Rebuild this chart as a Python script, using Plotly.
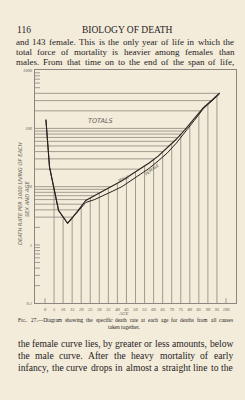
import numpy as np
import plotly.graph_objects as go

# ---------------- data ----------------
ages = [0.5, 2.5, 7.5, 12.5, 17.5, 22.5, 27.5, 32.5, 37.5, 42.5, 47.5, 52.5,
        57.5, 62.5, 67.5, 72.5, 77.5, 82.5, 87.5, 92.5, 96.5]
male = [142, 21.8, 3.92, 2.36, 3.63, 5.79, 7.04, 8.55, 10.4, 12.6, 16.0, 20.2,
        25.5, 33.5, 45.8, 65.1, 96.2, 148, 227, 310, 408]
female = [140, 21.5, 3.85, 2.33, 3.55, 5.35, 6.02, 7.04, 8.41, 10.0, 12.6, 16.0,
          20.6, 27.6, 37.7, 55.7, 85.5, 137, 218, 304, 392]
x_tick_vals = list(range(0, 101, 5))
x_tick_text = [str(v) for v in x_tick_vals]
y_tick_vals = [0.1, 1, 10, 100, 1000]
y_tick_text = ["0.1", "1", "10", "100", "1000"]
grid_values = [0.2, 0.3, 0.4, 0.5, 0.6, 0.7, 0.8, 0.9, 1, 2, 3, 4, 5, 6, 7, 8, 9,
               10, 20, 30, 40, 50, 60, 70, 80, 90, 100, 200, 300, 400,
               500, 600, 700, 800, 900]
vert_ages = list(range(5, 96, 5))

header_num = "116"
header_title = "BIOLOGY OF DEATH"
top_lines = ["and 143 female.  This is the only year of life in which the",
             "total force of mortality is heavier among females than",
             "males.  From that time on to the end of the span of life,"]
bottom_lines = ["the female curve lies, by greater or less amounts, below",
                "the male curve.  After the heavy mortality of early",
                "infancy, the curve drops in almost a straight line to the"]
caption_words = ["F<span style='font-size:4.2px'>IG</span>.", "27.—Diagram", "showing", "the",
                 "specific", "death", "rate", "at", "each", "age", "for", "deaths", "from",
                 "all", "causes"]
caption_plain = ["FIG.", "27.—Diagram", "showing", "the", "specific", "death", "rate", "at",
                 "each", "age", "for", "deaths", "from", "all", "causes"]
caption2 = "taken together."
ytitle1 = "DEATH RATE PER 1000 LIVING OF EACH"
ytitle2 = "SEX AND AGE"

# ---------------- styling / geometry ----------------
W, H = 245, 400
BG = "#f3ecda"
INK = "#26221e"
LABEL = "#625d55"
GRID = "#8c877e"
px_left, px_right = 35, 236
px_top, px_bot = 69, 305
px_age0, px_per_year = 45, 1.81
x_range = [(px_left - px_age0) / px_per_year, (px_right - px_age0) / px_per_year]

# Times / Liberation Serif advance widths (per 1000 em)
TW = {' ': 250, ',': 250, '.': 250, '-': 333, '—': 1000, 'A': 722, 'F': 556, 'T': 611,
      'D': 722, 'I': 333, 'G': 722,
      'a': 444, 'b': 500, 'c': 444, 'd': 500, 'e': 444, 'f': 333, 'g': 500, 'h': 500,
      'i': 278, 'j': 278, 'k': 500, 'l': 278, 'm': 778, 'n': 500, 'o': 500, 'p': 500,
      'q': 500, 'r': 333, 's': 389, 't': 278, 'u': 500, 'v': 500, 'w': 722, 'x': 500,
      'y': 500, 'z': 444}


def twidth(s, size):
    return sum(TW.get(c, 500) for c in s) * size / 1000.0


def px(x):
    return x / W


def py(y):
    return 1 - y / H


fig = go.Figure()

lm = np.log10(male)
ages_a = np.array(ages)
imin = int(np.argmin(lm))
asc_ages = ages_a[imin:]
asc_log = lm[imin:]

# horizontal lines from left frame to the rising branch of the curve
hx, hy = [], []
tick_len = 5 / px_per_year
for v in grid_values:
    lv = np.log10(v)
    if asc_log.min() <= lv <= asc_log.max():
        xe = float(np.interp(lv, asc_log, asc_ages))
    else:
        xe = x_range[0] + tick_len
    hx += [x_range[0], xe, None]
    hy += [v, v, None]
fig.add_trace(go.Scatter(x=hx, y=hy, mode="lines", line=dict(color=GRID, width=0.8),
                         hoverinfo="skip", showlegend=False))

# vertical lines from bottom up to the curve
vx, vy = [], []
for a in vert_ages:
    top = 10 ** float(np.interp(a, ages_a, lm))
    vx += [a, a, None]
    vy += [0.1, top, None]
for a in [0, 100]:
    vx += [a, a, None]
    vy += [0.1, 0.1 * 10 ** (5 / 59), None]
fig.add_trace(go.Scatter(x=vx, y=vy, mode="lines", line=dict(color=GRID, width=0.8),
                         hoverinfo="skip", showlegend=False))

fig.add_trace(go.Scatter(x=ages, y=female, mode="lines", line=dict(color=INK, width=1.0),
                         hoverinfo="skip", showlegend=False))
fig.add_trace(go.Scatter(x=ages, y=male, mode="lines", line=dict(color=INK, width=1.1),
                         hoverinfo="skip", showlegend=False))

fig.update_layout(
    width=W, height=H, margin=dict(l=0, r=0, t=0, b=0),
    paper_bgcolor=BG, plot_bgcolor="rgba(0,0,0,0)",
    xaxis=dict(domain=[px(px_left), px(px_right)], range=x_range, showgrid=False,
               zeroline=False, showline=True, mirror=True, linecolor=GRID, linewidth=1,
               tickvals=x_tick_vals, ticktext=x_tick_text, ticks="",
               tickfont=dict(family="Liberation Serif", size=4.5, color=LABEL, style="italic"),
               tickangle=0, ticklabelstandoff=1),
    yaxis=dict(domain=[py(px_bot), py(px_top)], type="log", range=[-1, 3], showgrid=False,
               zeroline=False, showline=True, mirror=True, linecolor=GRID, linewidth=1,
               tickvals=y_tick_vals, ticktext=y_tick_text, ticks="",
               tickfont=dict(family="Liberation Serif", size=4.5, color=LABEL, style="italic"),
               ticklabelstandoff=1),
)

ann = []


def text(x, y, s, size, anchor="left", family="Liberation Serif", color=INK, angle=0,
         style="normal"):
    ann.append(dict(x=px(x), y=py(y), xref="paper", yref="paper", text=s, showarrow=False,
                    xanchor=anchor, yanchor="middle", textangle=angle, borderpad=0,
                    font=dict(family=family, size=size, color=color, style=style)))


def justified(words, x0, x1, y, size, shown=None):
    shown = shown or words
    widths = [twidth(w, size) for w in words]
    gap = (x1 - x0 - sum(widths)) / (len(words) - 1)
    x = x0
    for w, wd in zip(shown, widths):
        text(x, y, w, size)
        x += wd + gap


text(16, 28, header_num, 9.5)
text(127, 28, header_title, 9.5, anchor="center")
for i, s in enumerate(top_lines):
    justified(s.split(), 15, 233, 41 + 10 * i, 9.0)
for i, s in enumerate(bottom_lines):
    justified(s.split(), 16.5, 232, 346 + 12 * i, 9.6)
justified(caption_plain, 17, 232, 322.5, 5.4, shown=caption_words)
text(124, 329, caption2, 5.4, anchor="center")
text(123, 315, "AGE", 4.8, anchor="center", style="italic", color=LABEL)
text(100, 121, "TOTALS", 6.5, anchor="center", family="DejaVu Sans", color=LABEL,
     style="italic")
text(124, 179, "MALE", 4.2, anchor="center", family="DejaVu Sans", color=LABEL,
     angle=-22, style="italic")
text(152, 170, "FEMALE", 4.2, anchor="center", family="DejaVu Sans", color=LABEL,
     angle=-38, style="italic")
text(19.5, 194, ytitle1, 5.2, anchor="center", family="DejaVu Sans", color=LABEL,
     angle=-90, style="italic")
text(26.5, 200, ytitle2, 5.2, anchor="center", family="DejaVu Sans", color=LABEL,
     angle=-90, style="italic")
fig.update_layout(annotations=ann)

fig.write_html("out.html")
